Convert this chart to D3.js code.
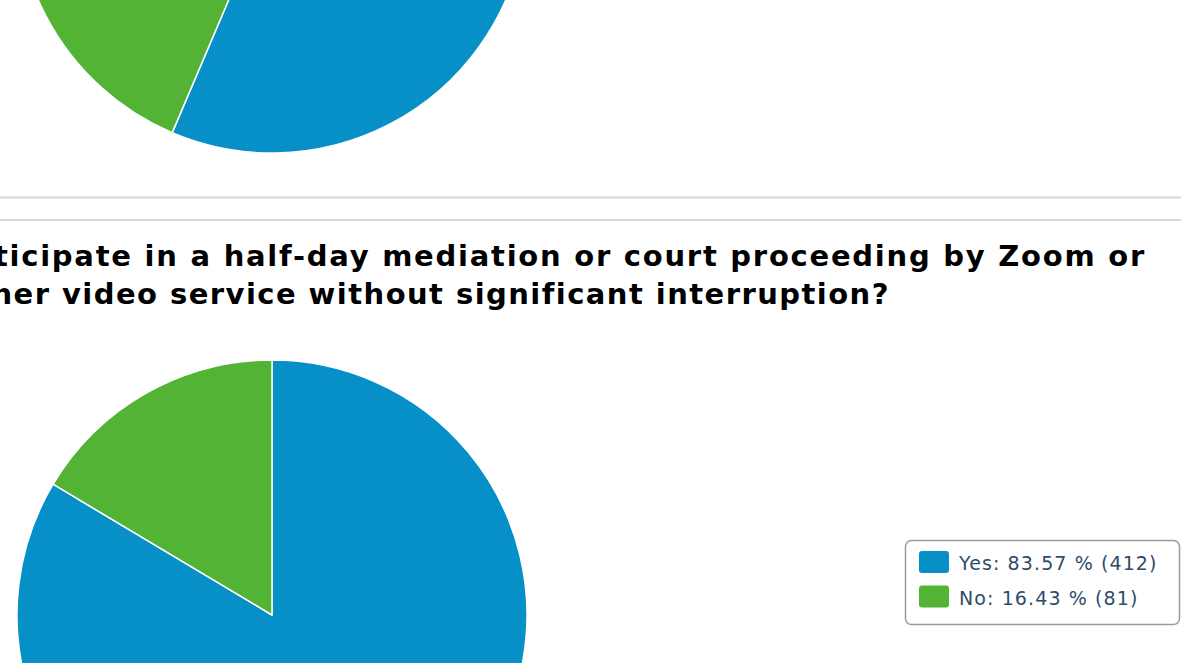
<!DOCTYPE html>
<html>
<head>
<meta charset="utf-8">
<script src="https://cdn.jsdelivr.net/npm/d3@7"></script>
<style>
  html, body { margin: 0; padding: 0; background: #fff; overflow: hidden; }
  .title { font-family: "DejaVu Sans", Verdana, sans-serif; font-weight: bold; font-size: 29px; fill: #000; letter-spacing: 1.75px; }
  .legend text { font-family: "DejaVu Sans", Verdana, sans-serif; font-size: 19px; fill: #2f4b6c; letter-spacing: 1.1px; }
</style>
</head>
<body>
<div class="diagram"></div>
<script>
// previous question (only the lower part is on screen)
const topLabels = ["Yes", "No"];
const topValues = [56.4, 43.6];

// this question
const labels = ["Yes", "No"];
const percents = [83.57, 16.43];
const counts = [412, 81];
const titleLines = [
  "Can you participate in a half-day mediation or court proceeding by Zoom or",
  "other video service without significant interruption?"
];
const colors = ["#078fc8", "#52b335"];

const w = 1181,
h = 663,
r = 255,
cx = 272,
svg = d3.select(".diagram")
.append("svg")
.attr("width", w)
.attr("height", h);

const color = d3.scaleOrdinal()
.domain(labels)
.range(colors);

const pie = d3.pie()
.sort(null)
.value(d => d.v);
const arc = d3.arc()
.innerRadius(0)
.outerRadius(r);

function drawPie(names, vals, cy) {
  const g = svg.append("g")
  .attr("transform", "translate(" + cx + "," + cy + ")");
  g.selectAll("path")
  .data(pie(names.map((n, i) => ({ n: n, v: vals[i] }))))
  .enter()
  .append("path")
  .attr("d", arc)
  .attr("fill", d => color(d.data.n))
  .attr("stroke", "#fff")
  .attr("stroke-width", 1.5)
  .attr("stroke-linejoin", "round");
}

drawPie(topLabels, topValues, -102);

// separators between questions
[197.5, 220].forEach(y => {
  svg.append("line")
  .attr("x1", 0)
  .attr("x2", w)
  .attr("y1", y)
  .attr("y2", y)
  .attr("stroke", "#d6d6d6")
  .attr("stroke-width", 2);
});

svg.append("text")
.attr("class", "title")
.attr("x", 1146)
.attr("y", 266)
.attr("text-anchor", "end")
.text(titleLines[0]);
svg.append("text")
.attr("class", "title")
.attr("x", 890)
.attr("y", 304)
.attr("text-anchor", "end")
.style("letter-spacing", "1.45px")
.text(titleLines[1]);

drawPie(labels, percents, 615);

// legend
const legend = svg.append("g")
.attr("class", "legend");
legend.append("rect")
.attr("x", 905.5)
.attr("y", 540.5)
.attr("width", 274)
.attr("height", 84)
.attr("rx", 6)
.attr("fill", "#fff")
.attr("stroke", "#9a9a9a")
.attr("stroke-width", 1.5);
const item = legend.selectAll(".item")
.data(labels)
.enter()
.append("g")
.attr("class", "item")
.attr("transform", (d, i) => "translate(919," + (551 + i * 34.5) + ")");
item.append("rect")
.attr("width", 30)
.attr("height", 22)
.attr("rx", 3)
.attr("fill", d => color(d));
item.append("text")
.attr("x", 40)
.attr("y", 19)
.text((d, i) => d + ": " + percents[i].toFixed(2) + " % (" + counts[i] + ")");
</script>
</body>
</html>
